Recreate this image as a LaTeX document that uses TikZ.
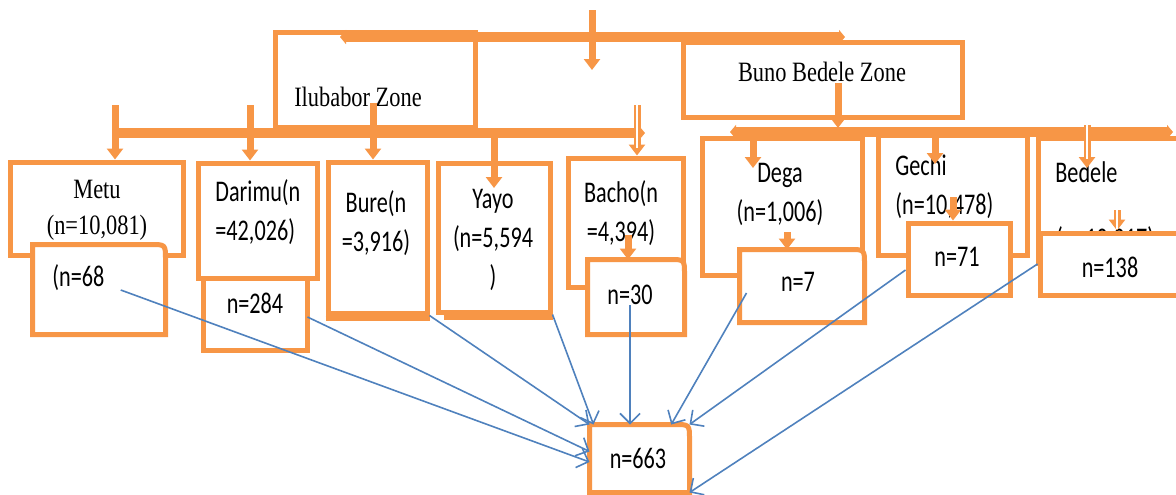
\documentclass[tikz,border=0pt]{standalone}
\usepackage{fontspec}
\usetikzlibrary{arrows.meta, calc}
\definecolor{peach}{HTML}{F79646}
\definecolor{cobalt}{HTML}{4F81BD}
\newfontfamily\calib[FakeStretch=0.74]{Carlito}
\newfontfamily\tms[FakeStretch=0.8]{Liberation Serif}

\begin{document}
\begin{tikzpicture}[
  x=0.5pt, y=-0.5pt,
  box/.style={draw=peach, line width=2.5pt, fill=white, inner sep=0pt},
  rbox/.style={box, draw=none},
  edge/.style={draw=peach, line width=2.5pt},
  bar/.style={draw=peach, line width=4.8pt, >={Triangle[width=7pt, length=3pt]}},
  br/.style={draw=peach, line width=3.5pt, -{Triangle[width=8pt, length=5.5pt]}},
  lk/.style={draw=cobalt, line width=0.8pt, -{Straight Barb[length=5pt, width=10pt]}},
  lbl/.style={font=\calib\fontsize{15}{19.5}\selectfont, align=center, inner sep=0pt},
  zlbl/.style={font=\tms\fontsize{14}{18}\selectfont, align=center, inner sep=0pt}]
  \useasboundingbox (0,0) rectangle (1176,494);

  % zones
  \node[box, minimum width=100pt, minimum height=47.5pt] (ilu) at (375,79.5) {};
  \node[box, minimum width=139.5pt, minimum height=37.5pt] (buno) at (822.5,79.5) {};

  % woredas
  \node[box, minimum width=86.5pt, minimum height=46.5pt] (metu) at (96.5,208.5) {};
  \node[box, minimum width=59.5pt, minimum height=57.5pt] (darimu) at (257.5,220.5) {};
  \node[box, minimum width=49.5pt, minimum height=75.5pt] (bure) at (377.5,237.5) {};
  \node[box, minimum width=56pt, minimum height=74.5pt] (yayo) at (494,237.5) {};
  \node[box, minimum width=57.5pt, minimum height=64.5pt] (bacho) at (625.5,222.5) {};
  \node[box, minimum width=80pt, minimum height=68.5pt] (dega) at (782,206.5) {};
  \node[box, minimum width=74.5pt, minimum height=60pt] (gechi) at (952.5,195) {};
  \node[box, minimum width=78.5pt, minimum height=62.5pt] (bedele) at (1116.5,200.5) {};
  \draw[edge] ($(bure.south west)+(0,3)$) -- ($(bure.south east)+(0,3)$);
  \draw[edge] ($(yayo.south west)+(8,3)$) -- ($(yayo.south east)+(0,3)$);
  \node[lbl] (tbed2) at (1105,240) {(n=10,017)};

  % samples
  \node[rbox, minimum width=64pt, minimum height=42.5pt] (n68) at (99,289.5) {};
  \node[box, minimum width=52pt, minimum height=36pt] (n284) at (255,314) {};
  \node[rbox, minimum width=46pt, minimum height=35pt] (n30) at (636,297) {};
  \node[rbox, minimum width=60pt, minimum height=34pt] (n7) at (802,286) {};
  \node[box, minimum width=51pt, minimum height=36pt] (n71) at (959,259) {};
  \node[box, minimum width=77.5pt, minimum height=31pt] (n138) at (1117.5,264) {};
  \node[rbox, minimum width=47.5pt, minimum height=31.5pt] (tot) at (639.5,458.5) {};
  \foreach \b in {n68,n30,n7,tot}
    \draw[edge] (\b.south west) -- (\b.north west) -- ($(\b.north east)+(-15,0)$)
      .. controls (\b.north east) .. ($(\b.north east)+(0,15)$) -- (\b.south east) -- cycle;

  % texts
  \node[zlbl] (tilu) at (358,97) {Ilubabor Zone};
  \node[zlbl] (tbuno) at (822,72) {Buno Bedele Zone};
  \node[zlbl] (tmetu) at (97,210) {Metu\\(n=10,081)};
  \node[lbl, anchor=west] (t68) at (52,278) {(n=68};
  \node[lbl, anchor=west, align=left] (tdar) at (215,212) {Darimu(n\\=42,026)};
  \node[lbl] (t284) at (255,303) {n=284};
  \node[lbl] (tbure) at (376,223) {Bure(n\\=3,916)};
  \node[lbl] (tyayo) at (493,240) {Yayo\\(n=5,594\\)};
  \node[lbl] (tbacho) at (621,213) {Bacho(n\\=4,394)};
  \node[lbl] (t30) at (630,295) {n=30};
  \node[lbl] (tdega) at (780,194) {Dega\\(n=1,006)};
  \node[lbl] (t7) at (798,282) {n=7};
  \node[lbl, anchor=west, align=left] (tgechi) at (895,187) {Gechi\\(n=10,478)};
  \node[lbl] (t71) at (957,257) {n=71};
  \node[lbl, anchor=west] (tbed) at (1055,172) {Bedele};
  \node[lbl] (t138) at (1110,267) {n=138};
  \node[lbl] (ttot) at (638,458) {n=663};

  % bars
  \draw[bar, <->] (340,37) -- (845,37);
  \draw[bar, ->] (118,133) -- (645,133);
  \draw[bar, <->] (730,132) -- (1173,132);

  % orange arrows
  \draw[br] (592,10) -- (592,70);
  \draw[br] (838,83) -- (838,128);
  \draw[br] (115,105) -- (115,0 |- metu.north);
  \draw[br] (250,105) -- (250,0 |- darimu.north);
  \draw[br] (373,103) -- (373,0 |- bure.north);
  \draw[br] (494,133) -- (494,188);
  \draw[br] (637,105) -- (637,0 |- bacho.north);
  \draw[white, line width=1pt] (637,105) -- (637,148);
  \draw[br] (628,235) -- (628,0 |- n30.north);
  \draw[br] (753,132) -- (753,168);
  \draw[br] (787,232) -- (787,0 |- n7.north);
  \draw[br] (935,132) -- (935,164);
  \draw[br] (953,197) -- (953,0 |- n71.north);
  \draw[br] (1087,125) -- (1087,168);
  \draw[white, line width=1pt] (1087,125) -- (1087,159);
  \draw[br] (1117,210) -- (1117,0 |- n138.north);
  \draw[white, line width=1pt] (1117,210) -- (1117,229);

  % blue links
  \draw[lk] ($(t68.east)+(16,12)$) -- (tot.184);
  \draw[lk] ($(n284.east)+(-2,3)$) -- (tot.172);
  \draw[lk] (bure.south east) -- (tot.north west);
  \draw[lk] (yayo.south east) -- ($(tot.north west)+(4,0)$);
  \draw[lk] (t30.south) -- (t30.south |- tot.north);
  \draw[lk] ($(n7.west)+(7,7)$) -- (tot.47);
  \draw[lk] ($(n71.west)+(0,11)$) -- (tot.north east);
  \draw[lk] (n138.west) -- (tot.south east);
\end{tikzpicture}
\end{document}
